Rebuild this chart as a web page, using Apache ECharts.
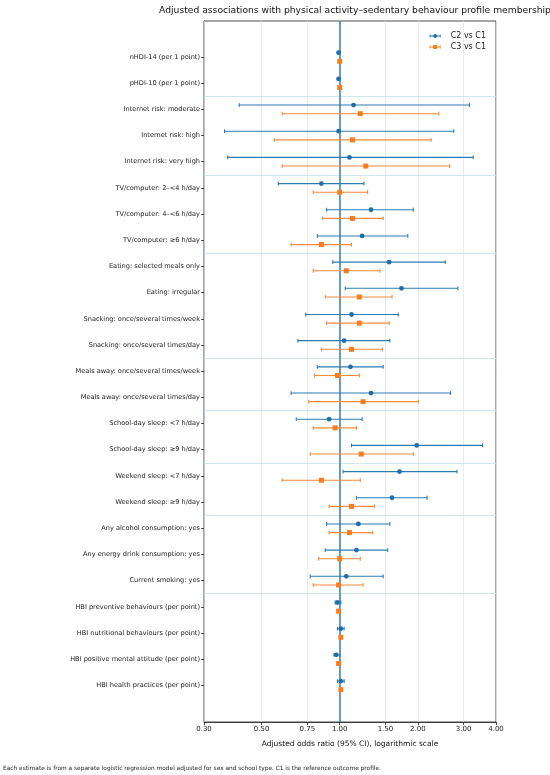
<!DOCTYPE html>
<html>
<head>
<meta charset="utf-8">
<script src="https://cdn.jsdelivr.net/npm/echarts@6/dist/echarts.min.js"></script>
<style>html,body{margin:0;padding:0;background:#fff}#c{width:550px;height:775px}</style>
</head>
<body>
<div id="c"></div>
<script>
const categories = [
  'nHDI-14 (per 1 point)',
  'pHDI-10 (per 1 point)',
  'Internet risk: moderate',
  'Internet risk: high',
  'Internet risk: very high',
  'TV/computer: 2\u2013<4 h/day',
  'TV/computer: 4\u2013<6 h/day',
  'TV/computer: \u22656 h/day',
  'Eating: selected meals only',
  'Eating: irregular',
  'Snacking: once/several times/week',
  'Snacking: once/several times/day',
  'Meals away: once/several times/week',
  'Meals away: once/several times/day',
  'School-day sleep: <7 h/day',
  'School-day sleep: \u22659 h/day',
  'Weekend sleep: <7 h/day',
  'Weekend sleep: \u22659 h/day',
  'Any alcohol consumption: yes',
  'Any energy drink consumption: yes',
  'Current smoking: yes',
  'HBI preventive behaviours (per point)',
  'HBI nutritional behaviours (per point)',
  'HBI positive mental attitude (per point)',
  'HBI health practices (per point)'
];
const c2OR = [0.99,0.99,1.13,0.99,1.09,0.85,1.32,1.22,1.55,1.73,1.11,1.04,1.10,1.32,0.91,1.98,1.70,1.59,1.18,1.16,1.06,0.98,1.01,0.97,1.01];
const c2Lo = [0.98,0.98,0.41,0.36,0.37,0.58,0.89,0.82,0.94,1.05,0.74,0.69,0.82,0.65,0.68,1.11,1.03,1.16,0.89,0.88,0.77,0.96,0.98,0.95,0.98];
const c2Hi = [1.00,1.00,3.16,2.75,3.27,1.24,1.92,1.83,2.55,2.85,1.68,1.56,1.47,2.67,1.22,3.55,2.83,2.17,1.56,1.53,1.47,1.01,1.04,1.00,1.04];
const c3OR = [1.00,1.00,1.20,1.12,1.26,1.00,1.12,0.85,1.06,1.19,1.19,1.11,0.98,1.23,0.96,1.21,0.85,1.11,1.09,1.00,0.99,0.99,1.01,0.99,1.01];
const c3Lo = [0.99,0.99,0.60,0.56,0.60,0.79,0.86,0.65,0.79,0.88,0.89,0.85,0.80,0.76,0.79,0.77,0.60,0.91,0.91,0.83,0.79,0.98,1.00,0.98,1.00];
const c3Hi = [1.01,1.01,2.41,2.25,2.65,1.28,1.47,1.11,1.43,1.59,1.55,1.46,1.19,2.01,1.16,1.92,1.20,1.36,1.34,1.20,1.23,1.00,1.02,1.00,1.02];
const xTicks = [0.3, 0.5, 0.75, 1, 1.5, 2, 3, 4];
const groupBreaks = [1.5, 4.5, 7.5, 11.5, 13.5, 15.5, 17.5, 20.5];
const seriesNames = ['C2 vs C1', 'C3 vs C1'];
const titleText = 'Adjusted associations with physical activity\u2013sedentary behaviour profile membership';
const xName = 'Adjusted odds ratio (95% CI), logarithmic scale';
const footnote = 'Each estimate is from a separate logistic regression model adjusted for sex and school type. C1 is the reference outcome profile.';

const rows = categories.map((_, i) => i);
const FONT = 'DejaVu Sans';

function makeData(lo, est, hi) {
  return rows.map(i => [lo[i], est[i], hi[i], i]);
}

function errRenderer(sign, shape, lineColor, markColor) {
  return function (params, api) {
    const lo = api.value(0), est = api.value(1), hi = api.value(2), row = api.value(3);
    const pE = api.coord([est, row]);
    const band = api.coord([est, row + 1])[1] - pE[1];
    const y = pE[1] + sign * band * 0.165;
    const xl = api.coord([lo, row])[0];
    const xh = api.coord([hi, row])[0];
    const cap = 1.9;
    const ls = { stroke: lineColor, lineWidth: 1.1 };
    const children = [
      { type: 'line', shape: { x1: xl, y1: y, x2: xh, y2: y }, style: ls },
      { type: 'line', shape: { x1: xl, y1: y - cap, x2: xl, y2: y + cap }, style: ls },
      { type: 'line', shape: { x1: xh, y1: y - cap, x2: xh, y2: y + cap }, style: ls }
    ];
    if (shape === 'circle') {
      children.push({ type: 'circle', shape: { cx: pE[0], cy: y, r: 2.4 }, style: { fill: markColor } });
    } else {
      children.push({ type: 'rect', shape: { x: pE[0] - 2.5, y: y - 2.5, width: 5, height: 5 }, style: { fill: markColor } });
    }
    return { type: 'group', children: children };
  };
}

const chart = echarts.init(document.getElementById('c'), null, { renderer: 'canvas' });
const c2Icon = 'path://M0,3.5L14,3.5L14,4.5L0,4.5Z M0,2L1,2L1,6L0,6Z M13,2L14,2L14,6L13,6Z M4.5,4A2.5,2.5,0,1,1,9.5,4A2.5,2.5,0,1,1,4.5,4Z';
const c3Icon = 'path://M0,3.5L14,3.5L14,4.5L0,4.5Z M0,2L1,2L1,6L0,6Z M13,2L14,2L14,6L13,6Z M4.5,1.5L9.5,1.5L9.5,6.5L4.5,6.5Z';

chart.setOption({
  animation: false,
  textStyle: { fontFamily: FONT },
  title: {
    text: titleText,
    left: 350, top: 1, textAlign: 'center',
    textStyle: { fontFamily: FONT, fontSize: 9.2, fontWeight: 'normal', color: '#111' }
  },
  legend: {
    orient: 'vertical', right: 59, top: 27, itemGap: 3,
    itemWidth: 11, itemHeight: 7,
    textStyle: { fontFamily: FONT, fontSize: 8, color: '#222', padding: [0, 0, 0, 5] },
    data: [
      { name: seriesNames[0], icon: c2Icon },
      { name: seriesNames[1], icon: c3Icon }
    ]
  },
  grid: { left: 204, right: 54, top: 21, bottom: 53, show: true, borderColor: '#222', borderWidth: 0.8, backgroundColor: 'transparent' },
  xAxis: {
    type: 'log', logBase: 10, min: 0.3, max: 4,
    name: xName, nameLocation: 'middle', nameGap: 18,
    nameTextStyle: { fontFamily: FONT, fontSize: 7.5, color: '#111' },
    axisLine: { show: true, onZero: false, lineStyle: { color: '#222', width: 0.8 } },
    axisTick: { show: true, customValues: xTicks, length: 3, lineStyle: { color: '#222', width: 0.8 } },
    axisLabel: { customValues: xTicks, formatter: v => Number(v).toFixed(2), fontFamily: FONT, fontSize: 7, color: '#222', margin: 4 },
    minorTick: { show: false },
    splitLine: { show: false }
  },
  yAxis: {
    type: 'value', inverse: true, min: -1.375, max: 25.4,
    axisLine: { show: true, onZero: false, lineStyle: { color: '#222', width: 0.8 } },
    axisTick: { show: true, customValues: rows, length: 3, lineStyle: { color: '#222', width: 0.8 } },
    axisLabel: { customValues: rows, formatter: v => categories[Math.round(v)] || '', fontFamily: FONT, fontSize: 6.6, color: '#222', margin: 4 },
    splitLine: { show: false }
  },
  series: [
    {
      type: 'scatter', data: [], silent: true, z: 1,
      markLine: {
        silent: true, symbol: 'none', animation: false,
        label: { show: false },
        lineStyle: { color: '#e1e7ee', width: 0.8, type: 'solid' },
        data: xTicks.map(v => ({ xAxis: v }))
      }
    },
    {
      type: 'scatter', data: [], silent: true, z: 2,
      markLine: {
        silent: true, symbol: 'none', animation: false,
        label: { show: false },
        lineStyle: { color: '#c9e5ee', width: 0.9, type: 'solid' },
        data: groupBreaks.map(v => ({ yAxis: v }))
      }
    },
    {
      type: 'scatter', data: [], silent: true, z: 3,
      markLine: {
        silent: true, symbol: 'none', animation: false,
        label: { show: false },
        lineStyle: { color: '#3b7eae', width: 1.5, type: 'solid' },
        data: [{ xAxis: 1 }]
      }
    },
    {
      name: seriesNames[0], type: 'custom', z: 5,
      itemStyle: { color: '#1f6fa6' },
      encode: { x: [0, 1, 2], y: 3 },
      renderItem: errRenderer(-1, 'circle', '#2c7bb2', '#1f6fa6'),
      data: makeData(c2Lo, c2OR, c2Hi)
    },
    {
      name: seriesNames[1], type: 'custom', z: 5,
      itemStyle: { color: '#f9801f' },
      encode: { x: [0, 1, 2], y: 3 },
      renderItem: errRenderer(1, 'square', '#fb8a3c', '#f97d1c'),
      data: makeData(c3Lo, c3OR, c3Hi)
    }
  ],
  graphic: [
    { type: 'text', left: 3, top: 765, style: { text: footnote, fontFamily: FONT, fontSize: 5.85, fill: '#222' } }
  ]
});
</script>
</body>
</html>
